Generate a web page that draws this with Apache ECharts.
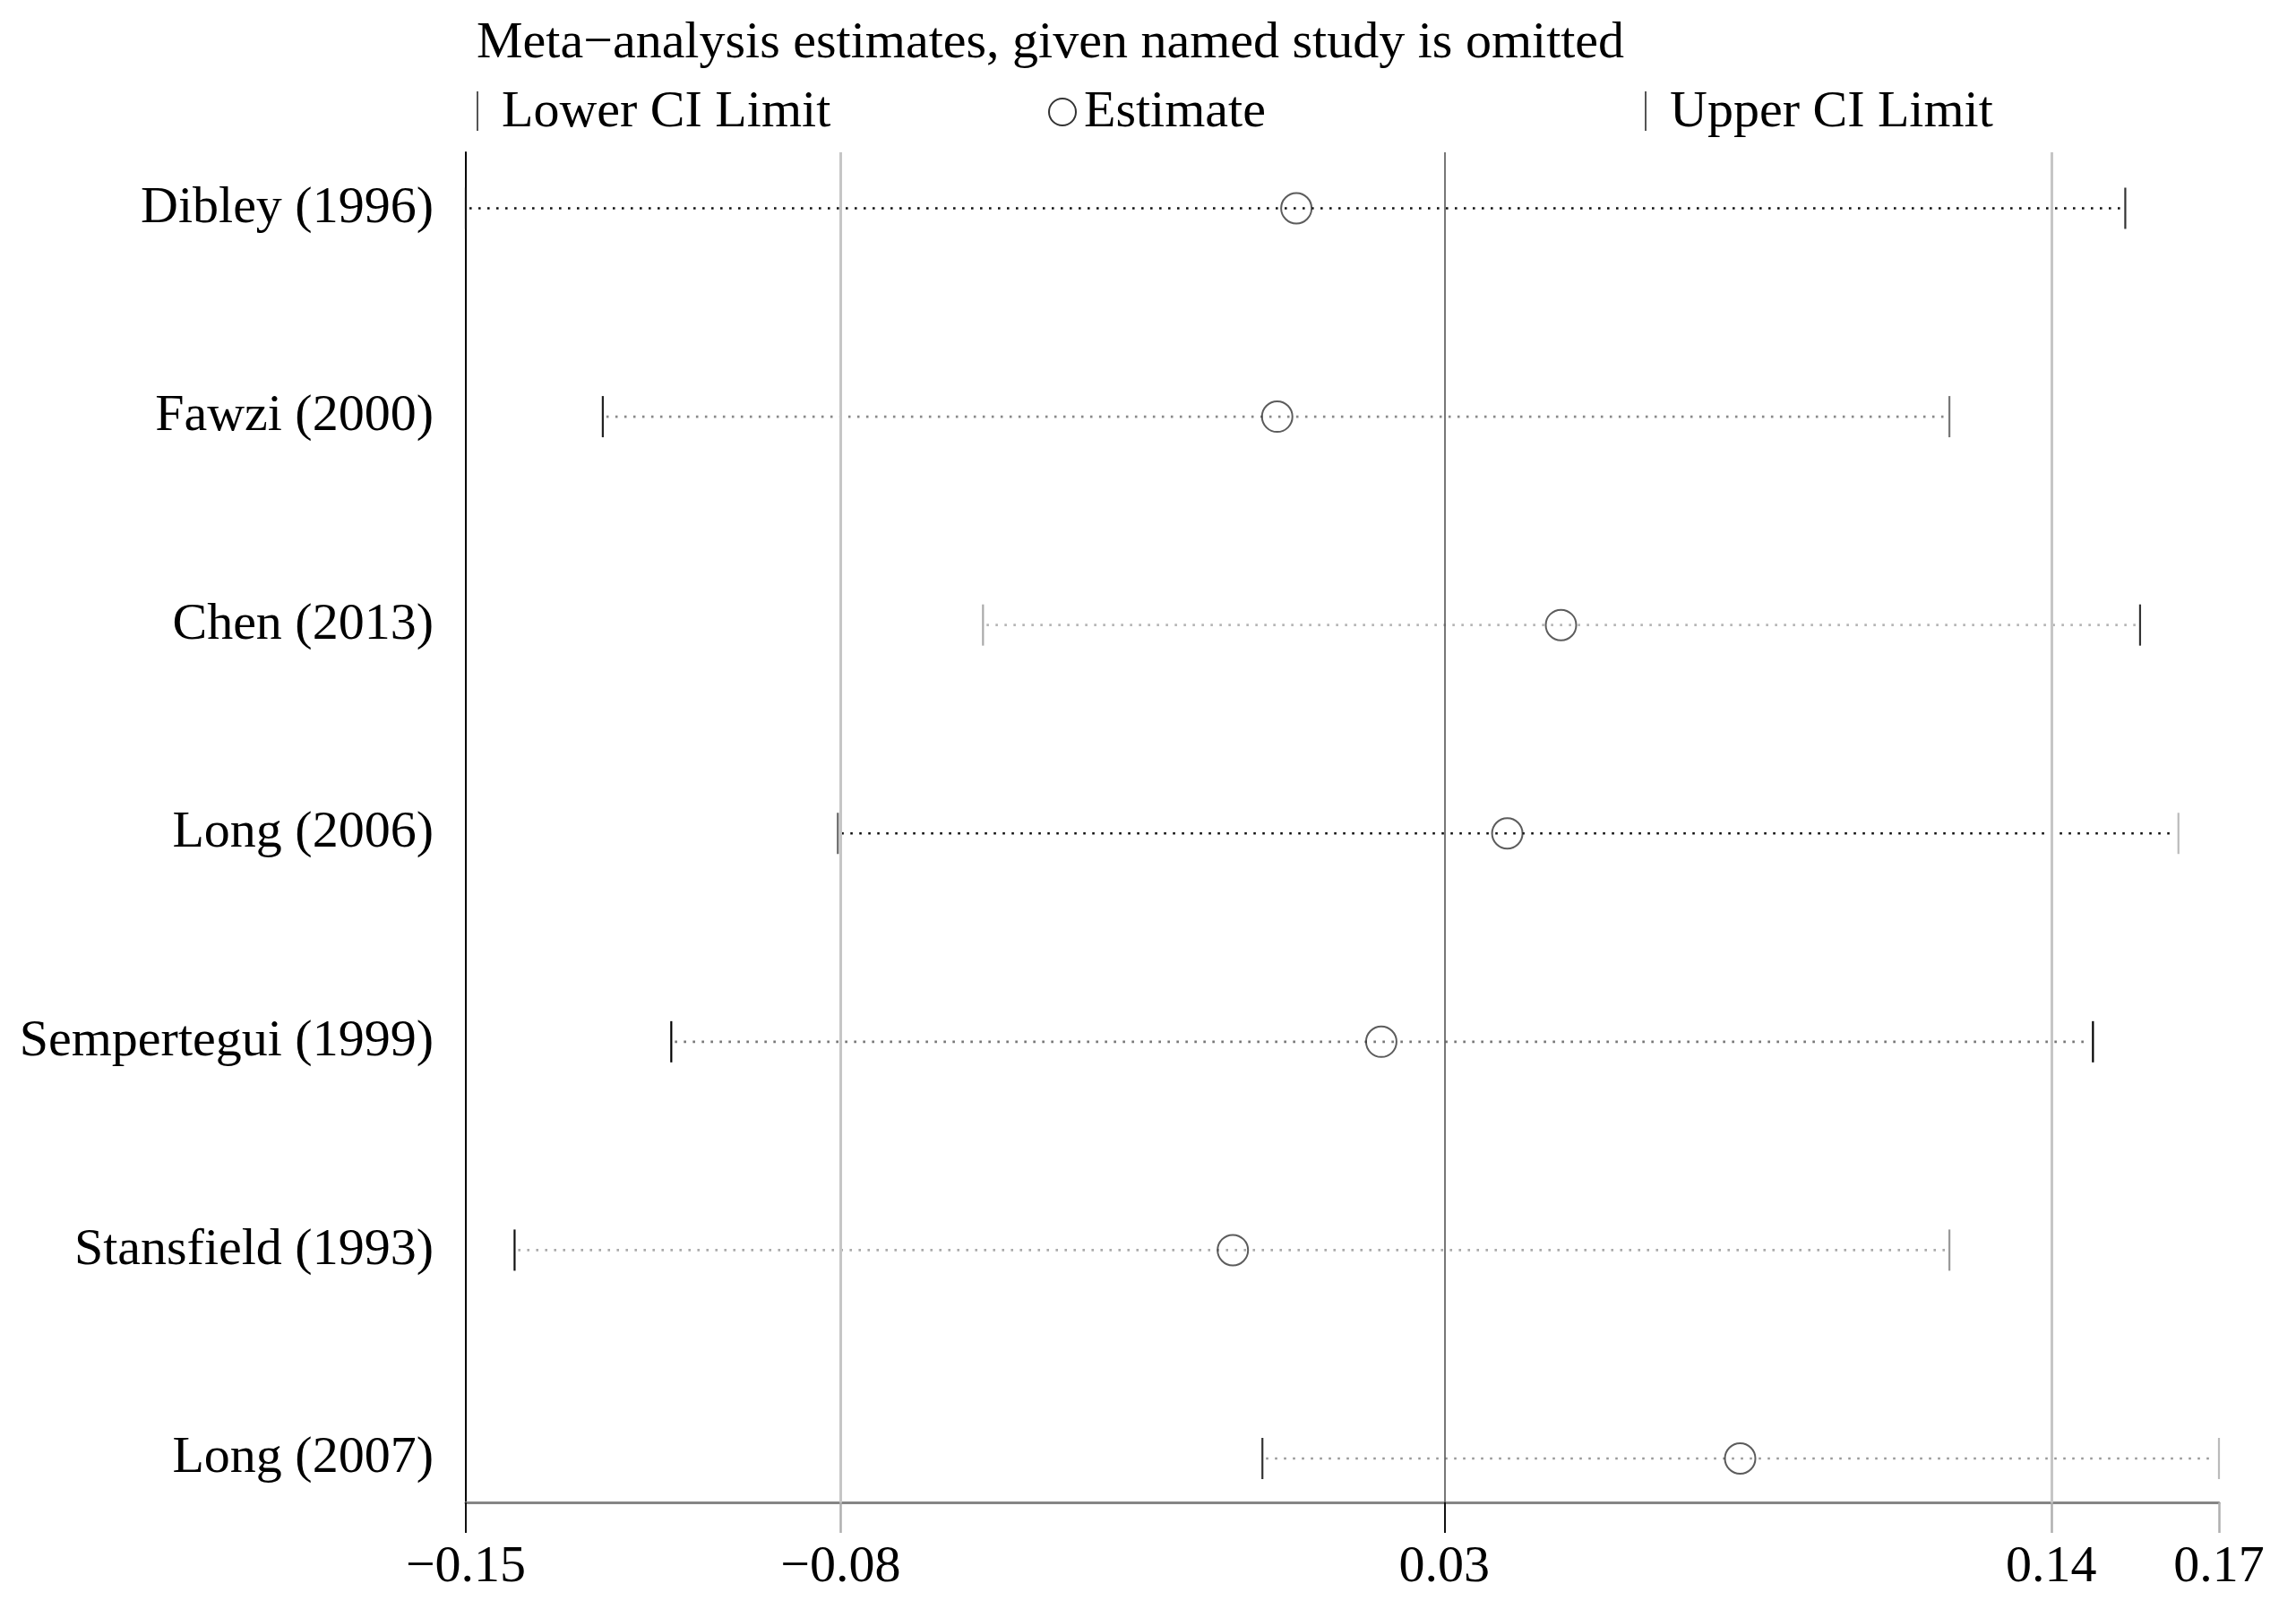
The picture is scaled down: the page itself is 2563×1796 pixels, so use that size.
<!DOCTYPE html>
<html>
<head>
<meta charset="utf-8">
<script src="https://cdn.jsdelivr.net/npm/echarts@6/dist/echarts.min.js"></script>
<style>html,body{margin:0;padding:0;background:#fff}#c{width:2563px;height:1796px}</style>
</head>
<body>
<div id="c"></div>
<script>
// ---- data ----
const studies = ['Dibley (1996)', 'Fawzi (2000)', 'Chen (2013)', 'Long (2006)', 'Sempertegui (1999)', 'Stansfield (1993)', 'Long (2007)'];
const lowerCI = [-0.1500, -0.1250, -0.0556, -0.0821, -0.1125, -0.1411, -0.0046];
const estimate = [0.0016, -0.0019, 0.0499, 0.0401, 0.0171, -0.0100, 0.0826];
const upperCI = [0.1529, 0.1208, 0.1556, 0.1626, 0.1470, 0.1208, 0.1700];
const tickValues = [-0.15, -0.0816, 0.0286, 0.1394, 0.17];
const overall = { lower: -0.0816, estimate: 0.0286, upper: 0.1394 };
const titleText = 'Meta\u2212analysis estimates, given named study is omitted';

// ---- styles (not data) ----
const dotColor = ['#111', '#8a8a8a', '#b5b5b5', '#111', '#777', '#aaa', '#999'];
const lowCapColor = ['#111', '#222', '#aaa', '#666', '#000', '#111', '#333'];
const upCapColor = ['#333', '#777', '#333', '#bbb', '#000', '#999', '#bbb'];
const FONT = 'Liberation Serif';

const rows = studies.map((s, i) => i + 1);
const ciData = studies.map((s, i) => [lowerCI[i], upperCI[i], rows[i]]);
const lowData = studies.map((s, i) => [lowerCI[i], rows[i]]);
const upData = studies.map((s, i) => [upperCI[i], rows[i]]);
const estData = studies.map((s, i) => [estimate[i], rows[i]]);

function fmt(v) { return (v < 0 ? '\u2212' : '') + Math.abs(v).toFixed(2); }

function capRenderer(colors) {
  return function (params, api) {
    const p = api.coord([api.value(0), api.value(1)]);
    return {
      type: 'line',
      shape: { x1: p[0], y1: p[1] - 23, x2: p[0], y2: p[1] + 23 },
      style: { stroke: colors[params.dataIndex], lineWidth: 2.2 }
    };
  };
}

const chart = echarts.init(document.getElementById('c'), null, { renderer: 'canvas' });
chart.setOption({
  backgroundColor: '#fff',
  animation: false,
  textStyle: { fontFamily: FONT },
  title: {
    text: titleText, left: 532, top: 20, padding: 0,
    textStyle: { fontFamily: FONT, fontSize: 58, fontWeight: 'normal', color: '#000' }
  },
  graphic: [
    { type: 'line', shape: { x1: 533, y1: 102, x2: 533, y2: 146 }, style: { stroke: '#555', lineWidth: 2 } },
    { type: 'text', left: 560, top: 97, style: { text: 'Lower CI Limit', font: '58px "Liberation Serif"', fill: '#000' } },
    { type: 'circle', shape: { cx: 1186, cy: 125, r: 15 }, style: { fill: 'none', stroke: '#333', lineWidth: 2 } },
    { type: 'text', left: 1210, top: 97, style: { text: 'Estimate', font: '58px "Liberation Serif"', fill: '#000' } },
    { type: 'line', shape: { x1: 1837, y1: 102, x2: 1837, y2: 146 }, style: { stroke: '#555', lineWidth: 2 } },
    { type: 'text', left: 1864, top: 97, style: { text: 'Upper CI Limit', font: '58px "Liberation Serif"', fill: '#000' } }
  ],
  grid: { left: 520, right: 86, top: 170, bottom: 119, containLabel: false },
  xAxis: [
    {
      type: 'value', min: -0.15, max: 0.17, position: 'bottom',
      axisLine: { show: true, onZero: false, lineStyle: { color: '#858585', width: 3 } },
      axisTick: { show: true, customValues: [tickValues[0], tickValues[2]], length: 34, inside: false, lineStyle: { color: '#111', width: 2 } },
      axisLabel: { show: true, customValues: tickValues, formatter: fmt, margin: 44, fontFamily: FONT, fontSize: 58, color: '#000' },
      splitLine: { show: false }
    },
    {
      type: 'value', min: -0.15, max: 0.17, position: 'bottom', gridIndex: 0,
      axisLine: { show: false, onZero: false },
      axisTick: { show: true, customValues: [tickValues[1], tickValues[3], tickValues[4]], length: 34, inside: false, lineStyle: { color: '#b0b0b0', width: 2.5 } },
      axisLabel: { show: false },
      splitLine: { show: false }
    }
  ],
  yAxis: {
    type: 'value', inverse: true, min: 0.7313, max: 7.2107,
    axisLine: { show: true, onZero: false, lineStyle: { color: '#000', width: 2 } },
    axisTick: { show: false },
    splitLine: { show: false },
    axisLabel: {
      show: true, customValues: rows, margin: 36,
      formatter: v => studies[Math.round(v) - 1] || '',
      fontFamily: FONT, fontSize: 58, color: '#000'
    }
  },
  series: [
    {
      type: 'line', data: [], z: 1, silent: true,
      markLine: {
        silent: true, symbol: 'none', precision: 6, label: { show: false },
        data: [
          { xAxis: overall.lower, lineStyle: { color: '#c6c6c6', width: 3, type: 'solid' } },
          { xAxis: overall.estimate, lineStyle: { color: '#555', width: 1.6, type: 'solid' } },
          { xAxis: overall.upper, lineStyle: { color: '#c6c6c6', width: 3, type: 'solid' } }
        ]
      }
    },
    {
      name: 'CI', type: 'custom', z: 2, data: ciData,
      encode: { x: [0, 1], y: 2 },
      renderItem: function (params, api) {
        const a = api.coord([api.value(0), api.value(2)]);
        const b = api.coord([api.value(1), api.value(2)]);
        return {
          type: 'line',
          shape: { x1: a[0] + 4, y1: a[1], x2: b[0] - 4, y2: b[1] },
          style: { stroke: dotColor[params.dataIndex], lineWidth: 2.6, lineDash: [2.6, 7.4] }
        };
      }
    },
    { name: 'Lower CI Limit', type: 'custom', z: 3, data: lowData, encode: { x: 0, y: 1 }, renderItem: capRenderer(lowCapColor) },
    { name: 'Upper CI Limit', type: 'custom', z: 3, data: upData, encode: { x: 0, y: 1 }, renderItem: capRenderer(upCapColor) },
    {
      name: 'Estimate', type: 'scatter', z: 4, data: estData,
      symbol: 'circle', symbolSize: 34,
      itemStyle: { color: 'rgba(0,0,0,0)', borderColor: '#333', borderWidth: 2 }
    }
  ]
});
</script>
</body>
</html>
